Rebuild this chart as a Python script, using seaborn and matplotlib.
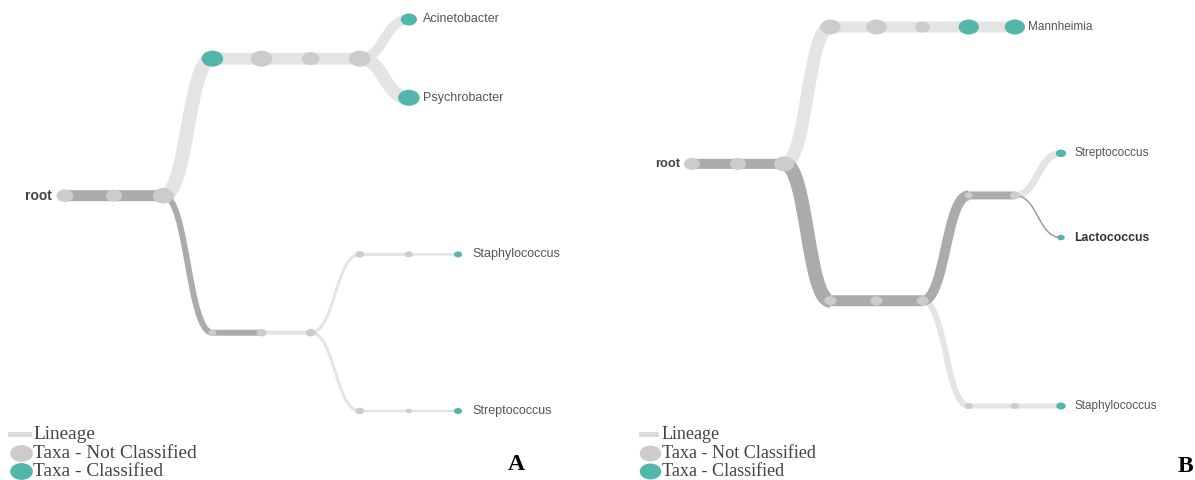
import matplotlib
matplotlib.use("Agg")
import matplotlib.pyplot as plt
from matplotlib.path import Path
from matplotlib.patches import PathPatch, Rectangle
from matplotlib.transforms import Affine2D
import pandas as pd
import seaborn as sns

# ---------------- lineage trees ----------------
# Panel A
a_parent = [-1, 0, 1, 2, 3, 4, 5, 6, 6, 2, 9, 10, 11, 12, 13, 11, 15, 16]
a_label = ["root", "", "", "", "", "", "", "Acinetobacter", "Psychrobacter",
           "", "", "", "", "", "Staphylococcus", "", "", "Streptococcus"]
a_classified = [0, 0, 0, 1, 0, 0, 0, 1, 1, 0, 0, 0, 0, 0, 1, 0, 0, 1]
a_node_size = [12.5, 12, 15.5, 16, 16, 13, 16, 12, 16, 6, 7.5, 7.5, 6.5, 6, 6, 6.5, 4.5, 6]
a_edge_width = [0, 11, 11, 14, 12, 12, 12, 10, 13, 6, 6, 4, 3, 3, 2.5, 3, 2.5, 2.5]
a_edge_tone = ["", "dark", "dark", "light", "light", "light", "light", "light", "light",
               "dark", "dark", "light", "light", "light", "light", "light", "light", "light"]

# Panel B
b_parent = [-1, 0, 1, 2, 3, 4, 5, 6, 2, 8, 9, 10, 11, 12, 12, 10, 15, 16]
b_label = ["root", "", "", "", "", "", "", "Mannheimia", "", "", "", "", "",
           "Streptococcus", "Lactococcus", "", "", "Staphylococcus"]
b_classified = [0, 0, 0, 0, 0, 0, 1, 1, 0, 0, 0, 0, 0, 1, 1, 0, 0, 1]
b_node_size = [12, 12, 15, 15, 15, 11, 15, 15, 9, 9, 9, 6, 7.5, 7.5, 5.5, 6, 6, 7]
b_edge_width = [0, 10, 10, 13, 11, 11, 11, 11, 14, 11, 11, 10, 8, 7, 1.5, 6, 5, 5]
b_edge_tone = ["", "dark", "dark", "light", "light", "light", "light", "light",
               "dark", "dark", "dark", "dark", "dark", "light", "mid", "light", "light", "light"]
b_emphasis = ["Lactococcus"]

legend_entries = ["Lineage", "Taxa - Not Classified", "Taxa - Classified"]

# ---------------- styling ----------------
TONE = {"dark": "#ababab", "light": "#e4e4e4", "mid": "#9a9a9a"}
NODE_GREY = "#cccccc"
NODE_TEAL = "#52b6ab"
ASPECT = 1.35          # horizontal stretch of the node glyphs
PX2PT = 0.72           # 100 dpi: 1 px = 0.72 pt

ellipse = Path.unit_circle().transformed(Affine2D().scale(ASPECT, 1.0))


def tidy_layout(parents):
    """Tidy tree layout: siblings 1 unit apart, cousins 2 units apart."""
    n = len(parents)
    children = [[] for _ in range(n)]
    for i, p in enumerate(parents):
        if p >= 0:
            children[p].append(i)
    depth = [0] * n
    for i in range(n):
        d, p = 0, parents[i]
        while p >= 0:
            d += 1
            p = parents[p]
        depth[i] = d

    def sep(a, b):
        return 1.0 if parents[a] == parents[b] else 2.0

    def build(v):
        # returns offsets {node: pos relative to v}, contour {level: (top_node, bottom_node)}
        if not children[v]:
            return {v: 0.0}, {0: (v, v)}
        merged_off, merged_con = None, None
        placed = []
        for c in children[v]:
            off, con = build(c)
            if merged_off is None:
                shift = 0.0
            else:
                shift = -1e9
                for lvl in con:
                    if lvl in merged_con:
                        bot = merged_con[lvl][1]
                        top = con[lvl][0]
                        need = merged_off[bot] + sep(bot, top) - off[top]
                        shift = max(shift, need)
                if shift == -1e9:
                    shift = 0.0
            off = {k: val + shift for k, val in off.items()}
            placed.append(shift)
            if merged_off is None:
                merged_off, merged_con = dict(off), dict(con)
            else:
                merged_off.update(off)
                for lvl, (t, b) in con.items():
                    if lvl in merged_con:
                        merged_con[lvl] = (merged_con[lvl][0], b)
                    else:
                        merged_con[lvl] = (t, b)
        mid = (placed[0] + placed[-1]) / 2.0
        offsets = {k: val - mid for k, val in merged_off.items()}
        offsets[v] = 0.0
        contour = {0: (v, v)}
        for lvl, tb in merged_con.items():
            contour[lvl + 1] = tb
        return offsets, contour

    root = parents.index(-1)
    offsets, _ = build(root)
    pos = [offsets[i] for i in range(n)]
    return depth, pos


def draw_panel(ax, parents, labels, classified, node_size, edge_width, edge_tone,
               frame, emphasis=()):
    depth, pos = tidy_layout(parents)
    max_depth = max(depth)
    lo, hi = min(pos), max(pos)
    step = (frame["x1"] - frame["x0"]) / max_depth
    unit = (frame["y1"] - frame["y0"]) / (hi - lo)
    xs = [frame["x0"] + d * step for d in depth]
    ys = [frame["y0"] + (p - lo) * unit for p in pos]

    # lineage links (horizontal cubic links), light ones underneath
    order = sorted(range(len(parents)), key=lambda i: {"light": 0, "dark": 1, "mid": 2}.get(edge_tone[i], 0))
    for i in order:
        p = parents[i]
        if p < 0:
            continue
        x0, y0, x1, y1 = xs[p], ys[p], xs[i], ys[i]
        xm = (x0 + x1) / 2.0
        link = Path([(x0, y0), (xm, y0), (xm, y1), (x1, y1)],
                    [Path.MOVETO, Path.CURVE4, Path.CURVE4, Path.CURVE4])
        ax.add_patch(PathPatch(link, facecolor="none", edgecolor=TONE[edge_tone[i]],
                               lw=edge_width[i] * PX2PT, capstyle="butt", zorder=1))

    # taxa nodes
    df = pd.DataFrame({
        "x": xs, "y": ys,
        "status": ["Taxa - Classified" if c else "Taxa - Not Classified" for c in classified],
        "area": [(s * ASPECT * PX2PT) ** 2 for s in node_size],
    })
    amin, amax = df["area"].min(), df["area"].max()
    sns.scatterplot(data=df, x="x", y="y", hue="status",
                    palette={"Taxa - Classified": NODE_TEAL, "Taxa - Not Classified": NODE_GREY},
                    size="area", sizes=(amin, amax), size_norm=(amin, amax),
                    marker=ellipse, linewidth=0, edgecolor="none", legend=False,
                    ax=ax, zorder=3)

    # labels
    for i, lab in enumerate(labels):
        if not lab:
            continue
        if parents[i] < 0:
            ax.text(xs[i] - frame["label_dx"] + 1.5, ys[i], lab, ha="right", va="center",
                    fontsize=frame["root_font"], fontweight="bold", color="#444444",
                    family=["Liberation Sans", "DejaVu Sans"], zorder=4)
        else:
            bold = lab in emphasis
            ax.text(xs[i] + frame["label_dx"], ys[i], lab, ha="left", va="center",
                    fontsize=frame["font"] + (0.3 if bold else 0),
                    fontweight="bold" if bold else "normal",
                    color="#333333" if bold else "#555555",
                    family=["Liberation Sans", "DejaVu Sans"], zorder=4)

    # legend
    lg = frame["legend"]
    serif = ["Liberation Serif", "DejaVu Serif"]
    r0, r1, r2 = lg["rows"]
    ax.add_patch(Rectangle((lg["rect_x"], r0 - 2.5), lg["rect_w"], 5,
                           facecolor="#dddddd", edgecolor="none", zorder=2))
    ax.scatter([lg["mark_x"]], [r1], s=(lg["mark_w"] * PX2PT) ** 2, marker=ellipse,
               color=NODE_GREY, linewidths=0, zorder=3)
    ax.scatter([lg["mark_x"]], [r2], s=(lg["mark_w"] * PX2PT) ** 2, marker=ellipse,
               color=NODE_TEAL, linewidths=0, zorder=3)
    for row, txt in zip(lg["rows"], legend_entries):
        ax.text(lg["text_x"], row + 5.0, txt, ha="left", va="baseline",
                fontsize=lg["font"], color="#444444", family=serif, zorder=4)

    # panel tag
    ax.text(frame["tag_xy"][0], frame["tag_xy"][1], frame["tag"], ha="center", va="center",
            fontsize=17, fontweight="bold", color="black", family=serif, zorder=4)


sns.set_theme(style="white")
plt.rcParams["font.family"] = ["Liberation Sans", "DejaVu Sans"]

fig = plt.figure(figsize=(11.95, 4.8), dpi=100)
ax = fig.add_axes([0, 0, 1, 1])
ax.set_xlim(0, 1195)
ax.set_ylim(480, 0)
ax.axis("off")

frame_a = dict(x0=65, x1=458, y0=19.5, y1=411, label_dx=14.5, font=9, root_font=10,
               tag="A", tag_xy=(516.5, 464),
               legend=dict(rect_x=8, rect_w=24, mark_x=20.7, mark_w=22.7, text_x=33.3,
                           rows=(434.3, 452.7, 470.7), font=13.9))
frame_b = dict(x0=692, x1=1061, y0=27, y1=406, label_dx=13.3, font=8.5, root_font=9.2,
               tag="B", tag_xy=(1185, 466),
               legend=dict(rect_x=639, rect_w=20, mark_x=650.5, mark_w=21.5, text_x=662,
                           rows=(434.3, 453.3, 471), font=13.1))

draw_panel(ax, a_parent, a_label, a_classified, a_node_size, a_edge_width, a_edge_tone, frame_a)
draw_panel(ax, b_parent, b_label, b_classified, b_node_size, b_edge_width, b_edge_tone,
           frame_b, emphasis=b_emphasis)

fig.savefig("out.png", dpi=100, facecolor="white")
